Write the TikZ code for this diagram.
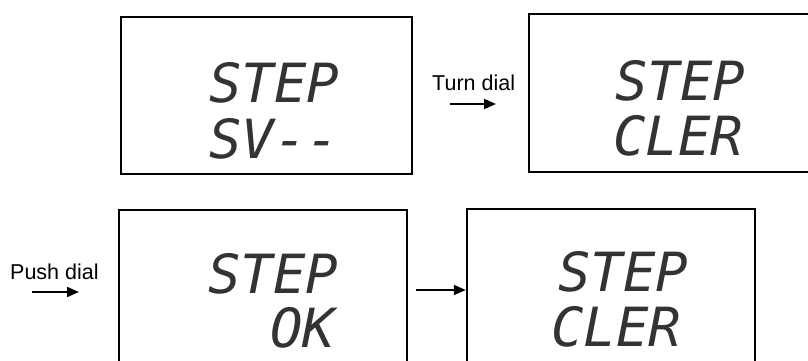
\documentclass[tikz,border=0pt]{standalone}
\usepackage{fontspec}
\setmainfont{Liberation Sans}
\newfontfamily\lcdfont{DejaVu Sans Mono}
\usetikzlibrary{arrows.meta}
\tikzset{
  lcdbox/.style={draw=black, line width=2.4pt, fill=none, inner sep=0pt},
  lcdtext/.style={anchor=base west, inner sep=0pt, text depth=0pt, text=black!80,
    font=\lcdfont\itshape\fontsize{54}{56}\selectfont},
  lbl/.style={anchor=base west, inner sep=0pt, font=\fontsize{21.5}{24}\selectfont},
  arr/.style={line width=1.8pt, -{Triangle[length=12pt,width=10pt]}},
}
\begin{document}
\begin{tikzpicture}[x=1pt,y=-1pt]
\clip (0,0) rectangle (808,361);
\fill[white] (0,0) rectangle (808,361);
% boxes
\node[lcdbox, minimum width=291pt, minimum height=157pt] (b1) at (266.5,95.5) {};
\node[lcdbox, minimum width=311pt, minimum height=158pt] (b2) at (684.5,93) {};
\node[lcdbox, minimum width=288pt, minimum height=190pt] (b3) at (263,305) {};
\node[lcdbox, minimum width=288pt, minimum height=191pt] (b4) at (611,304.5) {};
% display texts
\node[lcdtext] (t1a) at (209,102) {STEP};
\node[lcdtext] (t1b) at (209,158) {SV--};
\node[lcdtext] (t2a) at (615,100) {STEP};
\node[lcdtext] (t2b) at (613,155) {CLER};
\node[lcdtext] (t3a) at (208,293) {STEP};
\node[lcdtext] (t3b) at (270,347) {OK};
\node[lcdtext] (t4a) at (558,291) {STEP};
\node[lcdtext] (t4b) at (551,346) {CLER};
% labels
\node[lbl] (turn) at (432,90) {Turn dial};
\node[lbl] (push) at (10,279) {Push dial};
\coordinate (turnS) at (450,104);
\coordinate (turnE) at (496,104);
\coordinate (pushS) at (32,292);
\coordinate (pushE) at (79,292);
\draw[arr] (turnS) -- (turnE);
\draw[arr] (pushS) -- (pushE);
\draw[arr, shorten <=8pt] (b3.east |- 0,290) -- (b4.west |- 0,290);
\end{tikzpicture}
\end{document}
